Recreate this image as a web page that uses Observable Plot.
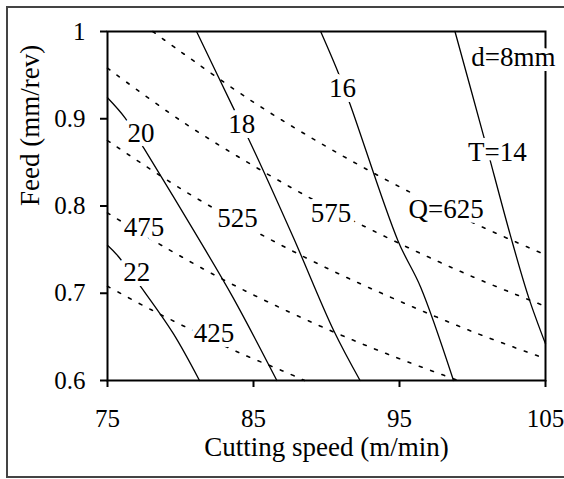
<!DOCTYPE html>
<html>
<head>
<meta charset="utf-8">
<script src="https://cdn.jsdelivr.net/npm/d3@7"></script>
<script src="https://cdn.jsdelivr.net/npm/@observablehq/plot@0.6"></script>
<style>
  body { margin: 0; background: white; }
  #wrap { position: relative; width: 564px; height: 479px; overflow: hidden; background: white; }
  #border { position: absolute; left: 6px; top: 6px; width: 640px; height: 472px; box-sizing: border-box; border: 2px solid #444; pointer-events: none; }
  #chart svg, #chart svg text { font-family: "Liberation Serif", "DejaVu Serif", serif !important; }
</style>
</head>
<body>
<div id="wrap"><div id="chart"></div><div id="border"></div></div>
<script>
// Axis ticks and titles
const xTicks = [75, 85, 95, 105];
const yTicks = [0.6, 0.7, 0.8, 0.9, 1];
const xTitle = "Cutting speed (m/min)";
const yTitle = "Feed (mm/rev)";

// Tool-life contours (solid): [speed m/min, feed mm/rev]
const lineT14 = [[98.8,1.0],[100.75,0.881],[102.6,0.766],[103.85,0.695],[105.0,0.642]];
const lineT16 = [[89.6,1.0],[90.75,0.955],[91.65,0.915],[94.9,0.760],[96.45,0.707],[98.7,0.600]];
const lineT18 = [[81.1,1.0],[83.6,0.913],[84.8,0.872],[87.7,0.765],[90.5,0.657],[92.3,0.600]];
const lineT20 = [[75.0,0.924],[76.2,0.901],[77.5,0.866],[80.9,0.772],[83.6,0.695],[86.6,0.600]];
const lineT22 = [[75.0,0.755],[75.7,0.743],[77.3,0.707],[79.5,0.654],[81.3,0.600]];

// Material removal rate contours (dotted)
const lineQ425 = [[75,0.708],[78,0.681],[81,0.656],[84,0.632],[87,0.611],[88.5,0.600]];
const lineQ475 = [[75,0.792],[79,0.752],[83,0.715],[87,0.682],[91,0.652],[95,0.625],[99,0.600]];
const lineQ525 = [[75,0.875],[80,0.820],[85,0.772],[90,0.729],[95,0.691],[100,0.656],[105,0.625]];
const lineQ575 = [[75,0.958],[80,0.898],[85,0.846],[90,0.799],[95,0.757],[100,0.719],[105,0.685]];
const lineQ625 = [[78.1,1.0],[80,0.977],[85,0.919],[90,0.868],[95,0.822],[100,0.781],[105,0.744]];

// Contour labels
const labelText = ["T=14","16","18","20","22","Q=625","575","525","475","425","d=8mm"];
const labelSpeed = [101.7, 91.1, 84.2, 77.3, 77.0, 98.2, 90.3, 83.9, 77.5, 82.3, 102.8];
const labelFeed  = [0.861, 0.935, 0.894, 0.883, 0.724, 0.796, 0.791, 0.786, 0.775, 0.654, 0.970];

const toRows = (pts, id) => pts.map(([v, f]) => ({v, f, id}));
const solidRows = [
  ...toRows(lineT14, "T14"), ...toRows(lineT16, "T16"), ...toRows(lineT18, "T18"),
  ...toRows(lineT20, "T20"), ...toRows(lineT22, "T22")
];
const dottedRows = [
  ...toRows(lineQ425, "Q425"), ...toRows(lineQ475, "Q475"), ...toRows(lineQ525, "Q525"),
  ...toRows(lineQ575, "Q575"), ...toRows(lineQ625, "Q625")
];
const labels = labelText.map((t, i) => ({t, v: labelSpeed[i], f: labelFeed[i]}));

const FONT = "Liberation Serif";
const chart = Plot.plot({
  width: 564,
  height: 479,
  marginLeft: 107,
  marginRight: 19,
  marginTop: 31,
  marginBottom: 99,
  style: {fontFamily: FONT, fontSize: "27px", background: "transparent", color: "black"},
  x: {domain: [75, 105]},
  y: {domain: [0.6, 1]},
  marks: [
    Plot.line(dottedRows, {x: "v", y: "f", z: "id", stroke: "black", strokeWidth: 1.6, strokeDasharray: "3,9", curve: "catmull-rom"}),
    Plot.line(solidRows, {x: "v", y: "f", z: "id", stroke: "black", strokeWidth: 1.3, curve: "catmull-rom"}),
    Plot.frame({stroke: "black", strokeWidth: 2}),
    Plot.text(labels, {x: "v", y: "f", text: "t", fill: "black", stroke: "white", strokeWidth: 10, fontSize: 27, fontFamily: FONT}),
    Plot.axisX({ticks: xTicks, tickSize: 7, tickPadding: 22, strokeWidth: 2, label: null, tickFormat: d => String(d), fontSize: 25, fontFamily: FONT}),
    Plot.axisY({ticks: yTicks, tickSize: 7, tickPadding: 15, strokeWidth: 2, label: null, tickFormat: d => String(d), fontSize: 25, fontFamily: FONT}),
    Plot.text([xTitle], {frameAnchor: "bottom", dy: 75, text: d => d, fontSize: 27, fontFamily: FONT}),
    Plot.text([yTitle], {frameAnchor: "left", dx: -77, rotate: -90, text: d => d, fontSize: 27, fontFamily: FONT})
  ]
});
document.getElementById("chart").appendChild(chart);
</script>
</body>
</html>
